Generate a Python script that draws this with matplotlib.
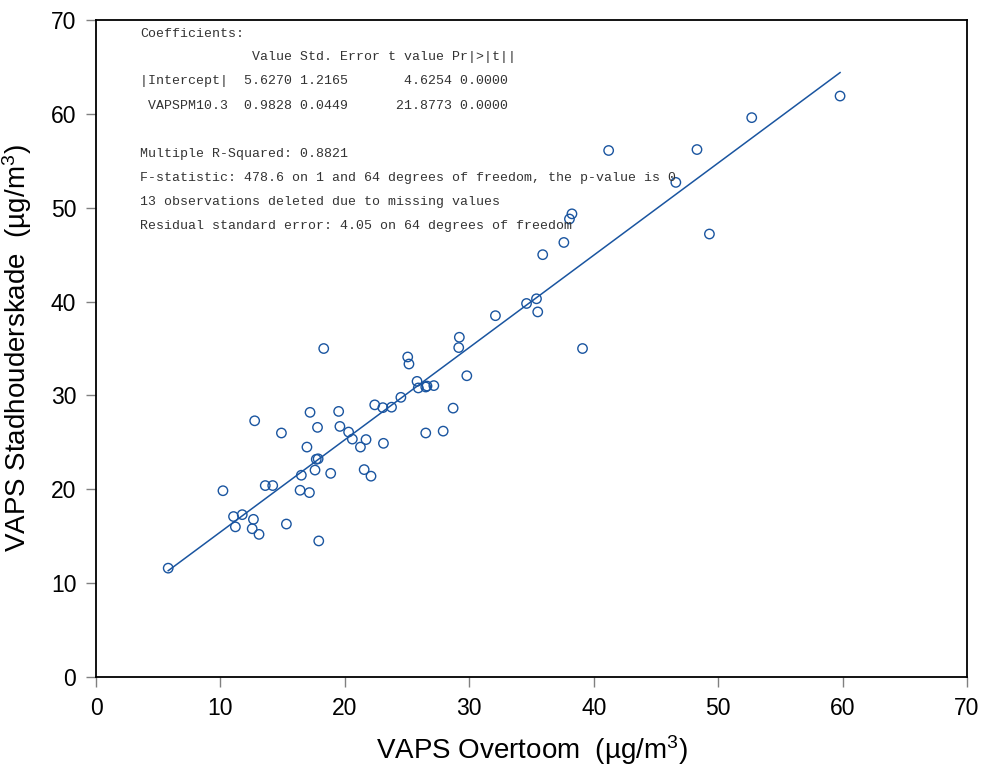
import numpy as np
import matplotlib
matplotlib.use("Agg")
import matplotlib.pyplot as plt

plt.rcParams['font.family'] = ['Liberation Sans', 'DejaVu Sans']
plt.rcParams['mathtext.fontset'] = 'custom'
plt.rcParams['mathtext.rm'] = 'Liberation Sans'
plt.rcParams['mathtext.it'] = 'Liberation Sans:italic'

# PM10 daily means, Overtoom (x) vs Stadhouderskade (y)
overtoom = [5.8, 18.3, 10.2, 17.2, 19.5, 12.75, 14.9, 17.8, 19.6, 20.3,
            16.95, 17.7, 17.85, 16.5, 17.6, 18.86, 13.6, 14.2, 16.4, 17.15,
            11.05, 11.75, 11.2, 12.65, 12.55, 13.1, 15.3, 17.9,
            29.2, 29.15, 25.05, 25.15, 29.8, 25.8, 25.9, 26.5, 26.6, 27.15,
            24.5, 22.4, 23.05, 23.75, 28.7, 20.6, 21.7, 21.25, 23.1, 26.5,
            27.9, 21.55, 22.1,
            41.2, 48.3, 46.6, 38.25, 38.05, 49.3, 37.6, 35.9, 35.4, 34.6,
            35.5, 32.1, 39.1, 52.7, 59.8]
stadhouderskade = [11.6, 35.0, 19.85, 28.2, 28.3, 27.3, 26.0, 26.6, 26.7, 26.1,
                   24.5, 23.2, 23.25, 21.5, 22.05, 21.7, 20.4, 20.4, 19.9, 19.65,
                   17.1, 17.3, 16.0, 16.8, 15.8, 15.2, 16.3, 14.5,
                   36.2, 35.1, 34.1, 33.35, 32.1, 31.5, 30.8, 30.9, 31.0, 31.05,
                   29.8, 29.0, 28.7, 28.75, 28.65, 25.35, 25.3, 24.5, 24.9, 26.0,
                   26.2, 22.1, 21.4,
                   56.1, 56.2, 52.7, 49.35, 48.8, 47.2, 46.3, 45.0, 40.3, 39.8,
                   38.9, 38.5, 35.0, 59.6, 61.9]

# fitted coefficients (intercept, slope)
intercept = 5.6270
slope = 0.9828

summary_lines = [
    "Coefficients:",
    "              Value Std. Error t value Pr|>|t||",
    "|Intercept|  5.6270 1.2165       4.6254 0.0000",
    " VAPSPM10.3  0.9828 0.0449      21.8773 0.0000",
    "",
    "Multiple R-Squared: 0.8821",
    "F-statistic: 478.6 on 1 and 64 degrees of freedom, the p-value is 0",
    "13 observations deleted due to missing values",
    "Residual standard error: 4.05 on 64 degrees of freedom",
]

blue = '#1a55a0'

fig = plt.figure(figsize=(9.82, 7.67), dpi=100)
ax = fig.add_axes([0.0978, 0.1173, 0.8869, 0.8566])

x = np.array(overtoom)
ax.scatter(x, stadhouderskade, s=46, facecolors='none', edgecolors=blue,
           linewidths=1.0, zorder=3)
xfit = np.array([x.min(), x.max()])
ax.plot(xfit, intercept + slope * xfit, color=blue, lw=1.1, zorder=2)

ax.set_xlim(0, 70)
ax.set_ylim(0, 70)
ax.set_xticks(range(0, 71, 10))
ax.set_yticks(range(0, 71, 10))
ax.tick_params(direction='out', length=7.2, width=1.0, color='#808080',
               labelsize=16.5, pad=7)
for sp in ax.spines.values():
    sp.set_linewidth(1.3)
    sp.set_color('black')

ax.set_xlabel('VAPS Overtoom  (µg/m$^3$)', fontsize=20, labelpad=10)
ax.set_ylabel('VAPS Stadhouderskade  (µg/m$^3$)', fontsize=20, labelpad=12)

# regression summary printout
line_y = [34, 57, 81, 106, 130, 154, 178, 202, 226]
for txt, py in zip(summary_lines, line_y):
    if not txt:
        continue
    ax.text(0.0505, (677 - py) / 657, txt, transform=ax.transAxes,
            family='Liberation Mono', fontsize=9.5, color='#333333',
            ha='left', va='center')

fig.savefig('out.png', dpi=100)
